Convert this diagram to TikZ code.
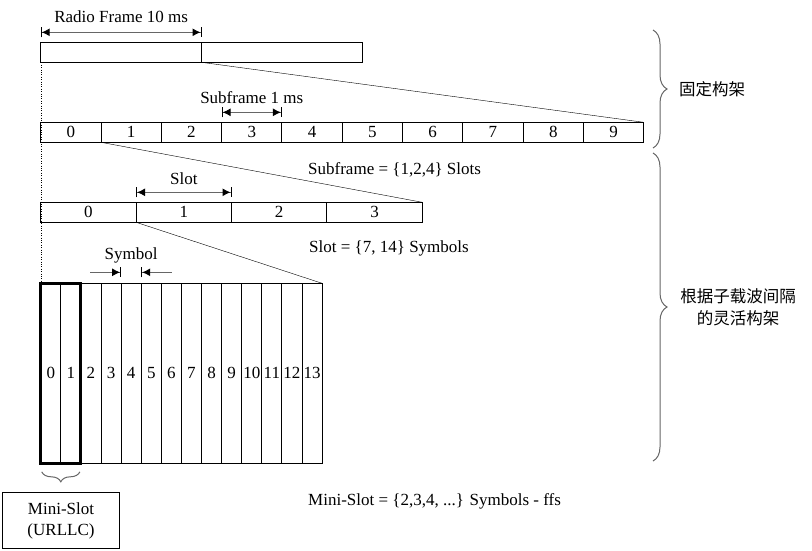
\documentclass[tikz,border=0pt]{standalone}
\usepackage{fontspec}
\setmainfont{Liberation Serif}
\newfontfamily\cjk{Noto Sans CJK SC}
\usetikzlibrary{arrows.meta,decorations.pathreplacing}

\tikzset{
    cell/.style={draw, line width=1pt, inner sep=0pt, outer sep=0pt, anchor=north west,
        minimum height=20pt, font=\fontsize{17}{20}\selectfont},
    lbl/.style={inner sep=0pt, font=\fontsize{17}{21}\selectfont},
    cjklbl/.style={inner sep=0pt, align=center, font=\cjk\fontsize{16.5}{22}\selectfont},
    dimline/.style={draw=black!60, line width=1pt,
        {Bar[width=10pt,sep=0pt,color=black]Latex[length=8pt,width=8pt,sep=0pt,color=black]}-{Latex[length=8pt,width=8pt,sep=0pt,color=black]Bar[width=10pt,sep=0pt,color=black]}},
    halfdim/.style={draw=black!60, line width=1pt,
        -{Latex[length=8pt,width=8pt,sep=0pt,color=black]Bar[width=10pt,sep=0pt,color=black]}},
    grpbrace/.style={draw=black!60, line width=1pt, decorate},
}

\begin{document}
\begin{tikzpicture}[x=1pt,y=-1pt]
    \useasboundingbox (0,0) rectangle (812,550);

    \foreach \i in {0,1}
        \node[cell, minimum width=160.8pt] (rf\i) at (40.7+160.8*\i,42.3) {};
    \foreach \i in {0,...,9}
        \node[cell, minimum width=60.3pt] (sf\i) at (40.7+60.3*\i,122.3) {\i};
    \foreach \i in {0,...,3}
        \node[cell, minimum width=95.4pt] (sl\i) at (40.7+95.4*\i,202.3) {\i};
    \foreach \i in {0,...,13}
        \node[cell, minimum width=20.1pt, minimum height=180pt] (sy\i) at (40.7+20.1*\i,283.3) {\i};
    \draw[line width=3pt] (sy0.north west) rectangle (sy1.south east);

    \draw[dotted] (rf0.south west) -- (sy0.north west);
    \draw (rf1.south west) -- (sf9.north east);
    \draw (sf1.south west) -- (sl3.north east);
    \draw (sl1.south west) -- (sy13.north east);

    \coordinate (rfa) at ([yshift=10pt]rf0.north west);
    \coordinate (rfb) at ([yshift=10pt]rf0.north east);
    \draw[dimline] (rfa) -- (rfb) node[lbl, midway, yshift=16pt] (rflbl) {Radio Frame 10 ms};
    \coordinate (sfa) at ([yshift=10pt]sf3.north west);
    \coordinate (sfb) at ([yshift=10pt]sf3.north east);
    \draw[dimline] (sfa) -- (sfb) node[lbl, midway, yshift=15pt] (sflbl) {Subframe 1 ms};
    \coordinate (sla) at ([yshift=10pt]sl1.north west);
    \coordinate (slb) at ([yshift=10pt]sl1.north east);
    \draw[dimline] (sla) -- (slb) node[lbl, midway, yshift=14pt] (sllbl) {Slot};
    \coordinate (sya) at ([yshift=11pt]sy4.north west);
    \coordinate (syb) at ([yshift=11pt]sy5.north west);
    \coordinate (syc) at ([xshift=-31pt]sya);
    \coordinate (syd) at ([xshift=30.5pt]syb);
    \draw[halfdim] (syc) -- (sya);
    \draw[halfdim] (syd) -- (syb);
    \node[lbl] (sylbl) at ([yshift=28pt]sy4.north) {Symbol};

    \node[lbl, anchor=west] (sfeq) at (308,170) {Subframe = \{1,2,4\} Slots};
    \node[lbl, anchor=west] (sleq) at (309,248) {Slot = \{7, 14\} Symbols};
    \node[lbl, anchor=west] (mseq) at (308,501.7) {Mini-Slot = \{2,3,4, ...\} Symbols - ffs};

    \draw[grpbrace, decoration={brace, mirror, amplitude=10pt}]
        ([xshift=1pt,yshift=-8.5pt]sy0.south west) -- ([xshift=-1pt,yshift=-8.5pt]sy1.south east);
    \node[lbl, draw, line width=1pt, align=center, minimum width=116.6pt, minimum height=55.6pt]
        (ms) at (61,520.5) {Mini-Slot\\(URLLC)};

    \coordinate (fxa) at (653,30);
    \coordinate (fxb) at (653,148);
    \coordinate (flxa) at (653,153);
    \coordinate (flxb) at (653,461);
    \draw[grpbrace, decoration={brace, amplitude=14pt}] (fxa) -- (fxb);
    \draw[grpbrace, decoration={brace, amplitude=14pt}] (flxa) -- (flxb);
    \node[cjklbl, anchor=west] (fixed) at (679,89) {固定构架};
    \node[cjklbl] (flex) at (738,307) {根据子载波间隔\\的灵活构架};
\end{tikzpicture}
\end{document}
